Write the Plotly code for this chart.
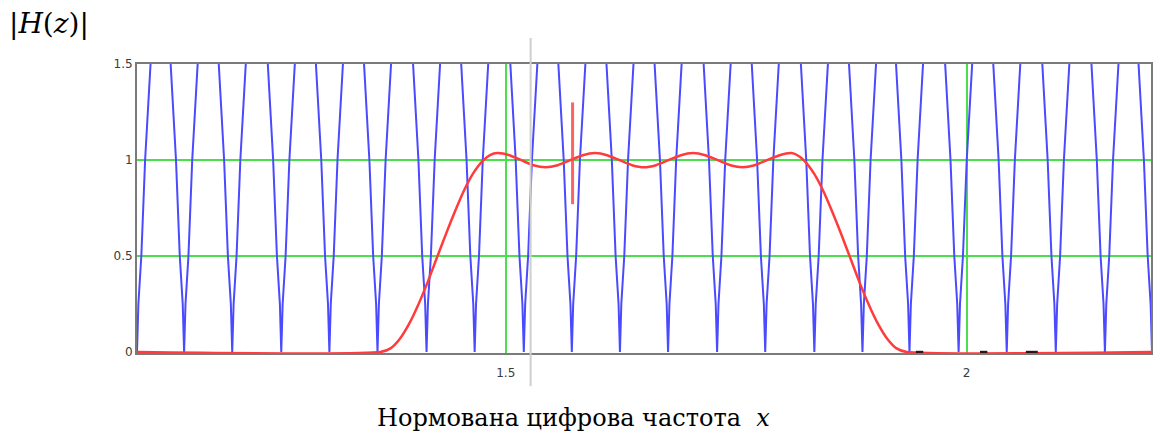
import plotly.graph_objects as go

# ---- data ----
# blue |H| curve: positions of its zeros (dips) and the shape of one dip
blue_dip_centers = [1.1000, 1.1511, 1.2033, 1.2565, 1.3087, 1.3609, 1.4141, 1.4663,
                    1.5196, 1.5717, 1.6239, 1.6761, 1.7293, 1.7815, 1.8348, 1.8870,
                    1.9380, 1.9913, 2.0435, 2.0967, 2.1500, 2.2011]
blue_dip_offsets = [-0.0160, -0.0147, -0.0088, -0.0047, -0.0015, 0.0,
                    0.0015, 0.0047, 0.0088, 0.0147, 0.0160]
blue_dip_levels = [1.62, 1.50, 1.00, 0.50, 0.25, 0.0, 0.25, 0.50, 1.00, 1.50, 1.62]

# red band-pass response
red_x = [1.100, 1.364, 1.375, 1.385, 1.395, 1.405, 1.415, 1.425, 1.435, 1.445, 1.455,
         1.465, 1.475, 1.483, 1.491, 1.504, 1.517, 1.530, 1.543, 1.5565, 1.570, 1.5835,
         1.597, 1.610, 1.6235, 1.637, 1.650, 1.663, 1.6765, 1.690, 1.703, 1.7165, 1.730,
         1.7435, 1.757, 1.770, 1.7835, 1.797, 1.810, 1.816, 1.824, 1.834, 1.844, 1.854,
         1.864, 1.874, 1.884, 1.894, 1.904, 1.914, 1.924, 1.935, 2.200]
red_y = [0.000, 0.000, 0.019, 0.068, 0.145, 0.245, 0.360, 0.487, 0.613, 0.733, 0.844,
         0.933, 0.996, 1.026, 1.036, 1.025, 0.999, 0.973, 0.962, 0.973, 0.999, 1.025,
         1.036, 1.025, 0.999, 0.973, 0.962, 0.973, 0.999, 1.025, 1.036, 1.025, 0.999,
         0.973, 0.962, 0.973, 0.999, 1.025, 1.036, 1.026, 0.996, 0.933, 0.844, 0.733,
         0.613, 0.487, 0.360, 0.245, 0.145, 0.068, 0.019, 0.000, 0.000]

# red marker spike
spike_x = 1.5725
spike_y = [0.77, 1.30]

# small dark dashes on the zero line
dash_centers = [1.9489, 2.0185, 2.0707]
dash_widths = [0.008, 0.008, 0.013]

# cursor line
cursor_x = 1.527

x_ticks = [1.5, 2.0]
x_tick_text = ["1.5", "2"]
y_ticks = [0, 0.5, 1.0, 1.5]
y_tick_text = ["0", "0.5", "1", "1.5"]

x_range = [1.1, 2.2]
y_range = [-0.005, 1.5]

# ---- build traces ----
bx, by = [], []
for c in blue_dip_centers:
    for o, l in zip(blue_dip_offsets, blue_dip_levels):
        bx.append(c + o)
        by.append(l)

dx, dy = [], []
for c, w in zip(dash_centers, dash_widths):
    dx += [c - w / 2, c + w / 2, None]
    dy += [0.0, 0.0, None]

fig = go.Figure()
fig.add_trace(go.Scatter(x=bx, y=by, mode="lines",
                         line=dict(color="#4a4aff", width=2), hoverinfo="skip"))
fig.add_trace(go.Scatter(x=red_x, y=red_y, mode="lines",
                         line=dict(color="#ff3b3b", width=2.5, shape="spline", smoothing=0.6),
                         hoverinfo="skip"))
fig.add_trace(go.Scatter(x=[spike_x, spike_x], y=spike_y, mode="lines",
                         line=dict(color="rgba(255,70,70,0.85)", width=3), hoverinfo="skip"))
fig.add_trace(go.Scatter(x=dx, y=dy, mode="lines",
                         line=dict(color="#3a1010", width=2.5), hoverinfo="skip"))

fig.add_shape(type="line", xref="x", yref="paper", x0=cursor_x, x1=cursor_x,
              y0=-0.115, y1=1.09, line=dict(color="#cfcfcf", width=2), layer="above")

fig.update_layout(
    width=1154, height=438,
    margin=dict(l=137, r=1, t=64, b=85),
    paper_bgcolor="white", plot_bgcolor="white",
    showlegend=False,
    font=dict(family="DejaVu Sans", size=12, color="#3a3a3a"),
    annotations=[
        dict(text="|<i>H</i>(<i>z</i>)|", xref="paper", yref="paper",
             x=-0.128, y=1.14, xanchor="left", yanchor="middle", showarrow=False,
             font=dict(family="DejaVu Serif", size=28, color="black")),
        dict(text="Нормована цифрова частота  <i>x</i>", xref="paper", yref="paper",
             x=0.43, y=-0.225, xanchor="center", yanchor="middle", showarrow=False,
             font=dict(family="DejaVu Serif", size=24, color="black")),
    ],
)
fig.update_xaxes(range=x_range, tickvals=x_ticks, ticktext=x_tick_text,
                 showgrid=True, gridcolor="#4be04b", gridwidth=2,
                 showline=True, linecolor="#7a7a7a", linewidth=2, mirror=True,
                 zeroline=False, ticks="", ticklabelstandoff=8, layer="below traces")
fig.update_yaxes(range=y_range, tickvals=y_ticks, ticktext=y_tick_text,
                 showgrid=True, gridcolor="#4be04b", gridwidth=2,
                 showline=True, linecolor="#7a7a7a", linewidth=2, mirror=True,
                 zeroline=False, ticks="", ticklabelstandoff=0, layer="below traces")

fig.write_html("out.html", config={"displayModeBar": False},
               post_script="document.body.style.margin='0';")
